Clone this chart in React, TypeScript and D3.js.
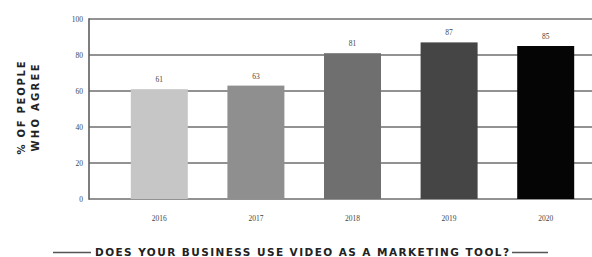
import React, { useEffect, useRef } from 'react';
import * as d3 from 'd3';

// data
const years = ['2016', '2017', '2018', '2019', '2020'];
const agree = [61, 63, 81, 87, 85];
const barColors = ['#c6c6c6', '#8f8f8f', '#6f6f6f', '#454545', '#050505'];
const yTicks = [0, 20, 40, 60, 80, 100];

const W = 592, H = 257;

export default function App() {
    const ref = useRef<SVGSVGElement>(null);

    useEffect(() => {
        const svg = d3.select(ref.current);
        svg.selectAll('*').remove();

        const left = 89, right = 592, top = 19, bottom = 199;

        // scales
        const x = d3.scaleBand<string>()
            .domain(years)
            .range([111, 594])
            .paddingInner(0.41)
            .paddingOuter(0.205);

        const y = d3.scaleLinear()
            .domain([0, 100])
            .range([bottom, top]);

        const serif = '"Liberation Serif", "DejaVu Serif", serif';
        const sans = '"DejaVu Sans", "Open Sans", sans-serif';

        // grid lines
        svg.append('g')
            .selectAll('line')
            .data(yTicks)
            .enter()
            .append('line')
            .attr('x1', left)
            .attr('x2', right)
            .attr('y1', d => y(d))
            .attr('y2', d => y(d))
            .attr('stroke', '#6e6e6e')
            .attr('stroke-width', 1.6);

        // y tick labels
        svg.append('g')
            .selectAll('text')
            .data(yTicks)
            .enter()
            .append('text')
            .attr('x', 83)
            .attr('y', d => y(d) + 2.5)
            .attr('text-anchor', 'end')
            .attr('font-family', serif)
            .attr('font-size', 7.5)
            .attr('fill', '#444')
            .text(d => d);

        // bars
        svg.append('g')
            .selectAll('rect')
            .data(agree)
            .enter()
            .append('rect')
            .attr('x', (d, i) => x(years[i]) as number)
            .attr('y', d => y(d))
            .attr('width', x.bandwidth())
            .attr('height', d => bottom - y(d))
            .attr('fill', (d, i) => barColors[i]);

        // value labels
        svg.append('g')
            .selectAll('text')
            .data(agree)
            .enter()
            .append('text')
            .attr('x', (d, i) => (x(years[i]) as number) + x.bandwidth() / 2)
            .attr('y', d => y(d) - 7)
            .attr('text-anchor', 'middle')
            .attr('font-family', serif)
            .attr('font-size', 7.5)
            .attr('fill', '#444')
            .text(d => d);

        // y axis line
        svg.append('line')
            .attr('x1', left).attr('x2', left)
            .attr('y1', top - 0.8).attr('y2', bottom + 0.8)
            .attr('stroke', '#5e5e5e').attr('stroke-width', 1.6);

        // x labels
        svg.append('g')
            .selectAll('text')
            .data(years)
            .enter()
            .append('text')
            .attr('x', d => (x(d) as number) + x.bandwidth() / 2)
            .attr('y', 220.5)
            .attr('text-anchor', 'middle')
            .attr('font-family', serif)
            .attr('font-size', 7.5)
            .attr('fill', '#444')
            .text(d => d);

        // y title
        const yt = svg.append('g')
            .attr('transform', 'translate(0,108) rotate(-90)');
        yt.append('text')
            .attr('x', 0).attr('y', 24.5)
            .attr('text-anchor', 'middle')
            .attr('font-family', sans)
            .attr('font-weight', 'bold')
            .attr('font-size', 10)
            .attr('textLength', 93)
            .attr('lengthAdjust', 'spacing')
            .attr('fill', '#222')
            .text('% OF PEOPLE');
        yt.append('text')
            .attr('x', 0).attr('y', 38.5)
            .attr('text-anchor', 'middle')
            .attr('font-family', sans)
            .attr('font-weight', 'bold')
            .attr('font-size', 10)
            .attr('textLength', 87)
            .attr('lengthAdjust', 'spacing')
            .attr('fill', '#222')
            .text('WHO AGREE');

        // bottom title with side rules
        svg.append('line')
            .attr('x1', 53).attr('x2', 91)
            .attr('y1', 252.5).attr('y2', 252.5)
            .attr('stroke', '#555').attr('stroke-width', 1.3);
        svg.append('line')
            .attr('x1', 512).attr('x2', 548)
            .attr('y1', 252.5).attr('y2', 252.5)
            .attr('stroke', '#555').attr('stroke-width', 1.3);
        svg.append('text')
            .attr('x', 95).attr('y', 256)
            .attr('font-family', sans)
            .attr('font-weight', 'bold')
            .attr('font-size', 10.5)
            .attr('textLength', 414)
            .attr('lengthAdjust', 'spacing')
            .attr('fill', '#222')
            .text('DOES YOUR BUSINESS USE VIDEO AS A MARKETING TOOL?');
    }, []);

    return (
        <svg ref={ref} width={W} height={H}
             style={{ position: 'absolute', left: 0, top: 0, background: '#fff' }} />
    );
}
